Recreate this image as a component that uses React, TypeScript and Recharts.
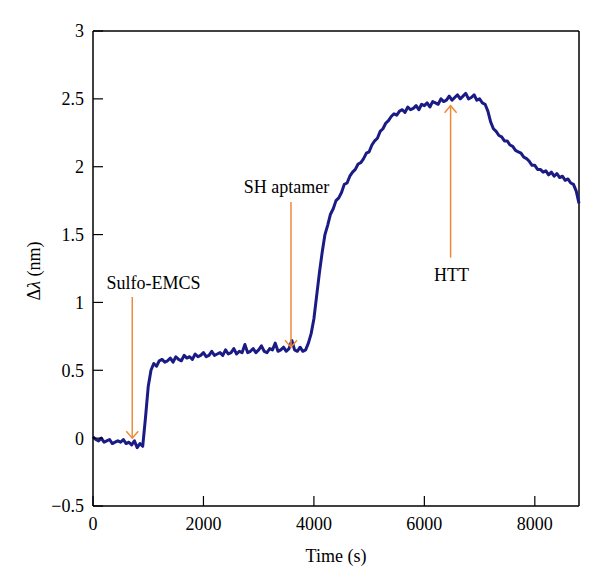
import { LineChart, Line, XAxis, YAxis, ReferenceLine, ReferenceDot } from 'recharts'

// sample times (s)
const timeS = [
  0, 50, 100, 150, 200, 250, 300, 350, 400, 450, 500, 550, 600, 650, 700, 750, 800, 850, 900,
  950, 1000, 1050, 1100, 1150, 1200,
  1250, 1300, 1350, 1400, 1450, 1500, 1550, 1600, 1650, 1700, 1750, 1800, 1850, 1900, 1950,
  2000, 2050, 2100, 2150, 2200, 2250, 2300, 2350, 2400, 2450, 2500, 2550, 2600, 2650, 2700,
  2750, 2800, 2850, 2900, 2950, 3000, 3050, 3100, 3150, 3200, 3250, 3300, 3350, 3400, 3450,
  3500, 3550, 3600, 3650, 3700, 3750, 3800, 3850,
  3900, 3950, 4000, 4050, 4100, 4150, 4200, 4250, 4300, 4350, 4400, 4450, 4500, 4550, 4600,
  4650, 4700, 4750, 4800, 4850, 4900, 4950, 5000, 5050, 5100, 5150, 5200, 5250, 5300, 5350,
  5400, 5450,
  5500, 5550, 5600, 5650, 5700, 5750, 5800, 5850, 5900, 5950, 6000, 6050, 6100, 6150, 6200,
  6250, 6300, 6350, 6400, 6450, 6500, 6550, 6600, 6650, 6700, 6750, 6800, 6850, 6900, 6950,
  7000, 7050,
  7100, 7150, 7200, 7250, 7300, 7350, 7400, 7450, 7500, 7550, 7600, 7650, 7700, 7750, 7800,
  7850, 7900, 7950, 8000, 8050, 8100, 8150, 8200, 8250, 8300, 8350, 8400, 8450, 8500, 8550,
  8600, 8650, 8700, 8750, 8800,
]

// wavelength shift (nm)
const shiftNm = [
  0.01, -0.01, -0.02, 0.0, -0.03, -0.02, -0.01, -0.04, -0.03, -0.02, -0.03, -0.01, -0.04, -0.03, -0.05, -0.02, -0.07, -0.04, -0.06,
  0.15, 0.38, 0.5, 0.55, 0.53, 0.57,
  0.58, 0.56, 0.57, 0.59, 0.56, 0.6, 0.58, 0.57, 0.61, 0.59,
  0.6, 0.58, 0.62, 0.6, 0.61, 0.63, 0.6, 0.61, 0.64, 0.61,
  0.62, 0.63, 0.61, 0.65, 0.62, 0.63, 0.66, 0.62, 0.64, 0.63,
  0.69, 0.63, 0.64, 0.66, 0.63, 0.65, 0.68, 0.64, 0.63, 0.66,
  0.65, 0.7, 0.64, 0.65, 0.67, 0.64, 0.66, 0.72, 0.65, 0.64,
  0.67, 0.64, 0.65,
  0.7, 0.77, 0.88, 1.05, 1.22, 1.37, 1.5, 1.57, 1.65, 1.69, 1.75, 1.77, 1.81, 1.87, 1.88,
  1.93, 1.96, 1.98, 2.02, 2.03, 2.06, 2.1, 2.11, 2.16, 2.19, 2.21, 2.26, 2.28, 2.32, 2.34,
  2.37, 2.39,
  2.38, 2.41, 2.42, 2.4, 2.44, 2.42, 2.43, 2.45, 2.42, 2.46,
  2.45, 2.47, 2.44, 2.48, 2.47, 2.46, 2.5, 2.48, 2.49, 2.52,
  2.49, 2.51, 2.53, 2.5, 2.52, 2.54, 2.5, 2.51, 2.53, 2.49,
  2.5, 2.47,
  2.46, 2.41, 2.33, 2.28, 2.26, 2.23, 2.22, 2.19, 2.19, 2.16,
  2.15, 2.12, 2.11, 2.1, 2.07, 2.06, 2.04, 2.01, 2.01, 1.98,
  1.98, 1.96, 1.97, 1.94, 1.96, 1.93, 1.95, 1.92, 1.93, 1.9,
  1.91, 1.88, 1.87, 1.82, 1.73,
]

const xTicks = [0, 2000, 4000, 6000, 8000]
const yTicks = [-0.5, 0, 0.5, 1, 1.5, 2, 2.5, 3]

// injection markers
const markerNames = ['Sulfo-EMCS', 'SH aptamer', 'HTT']
const markerTime = [711, 3585, 6475]
const markerTail = [1.04, 1.74, 1.33]
const markerTip = [0, 0.67, 2.45]
const labelTime = [1095, 3504, 6493]
const labelShift = [1.14, 1.85, 1.2]

const data = timeS.map((t, i) => ({ t, shift: shiftNm[i] }))

const FONT = '"Liberation Serif", "DejaVu Serif", serif'
const NAVY = '#1b1b86'
const ORANGE = '#ef8a3a'

function Arrow(props: any) {
  const { x1, y1, x2, y2 } = props
  const back = y2 > y1 ? -7 : 7
  return (
    <g>
      <line x1={x1} y1={y1} x2={x2} y2={y2} stroke={ORANGE} strokeWidth={1.5} />
      <polyline
        points={`${x2 - 6},${y2 + back} ${x2},${y2} ${x2 + 6},${y2 + back}`}
        fill="none"
        stroke={ORANGE}
        strokeWidth={1.5}
      />
    </g>
  )
}

function YTitle() {
  return (
    <text
      transform="translate(32, 263) rotate(-90)"
      textAnchor="middle"
      fontSize={18}
      fontFamily={FONT}
      fill="#000"
    >
      Δ<tspan fontStyle="italic">λ</tspan> (nm)
    </text>
  )
}

function XTitle() {
  return (
    <text x={328} y={554} textAnchor="middle" fontSize={18} fontFamily={FONT} fill="#000">
      Time (s)
    </text>
  )
}

const fmtY = (v: number) => (v < 0 ? '\u2212' + String(-v) : String(v))

export default function App() {
  return (
    <LineChart
      width={592}
      height={577}
      data={data}
      margin={{ top: 23, right: 21, bottom: 0, left: 0 }}
      style={{ fontFamily: FONT }}
    >
      <XAxis
        dataKey="t"
        type="number"
        domain={[0, 8800]}
        ticks={xTicks}
        height={79}
        tickSize={-10}
        tickMargin={21}
        axisLine={{ stroke: '#000', strokeWidth: 1.5 }}
        tickLine={{ stroke: '#000', strokeWidth: 1.2 }}
        tick={{ fill: '#000', fontSize: 18, fontFamily: FONT }}
        label={XTitle}
      />
      <YAxis
        type="number"
        domain={[-0.5, 3]}
        ticks={yTicks}
        width={85}
        tickSize={-10}
        tickMargin={19}
        tickFormatter={fmtY}
        axisLine={{ stroke: '#000', strokeWidth: 1.5 }}
        tickLine={{ stroke: '#000', strokeWidth: 1.2 }}
        tick={{ fill: '#000', fontSize: 18, fontFamily: FONT }}
        label={YTitle}
      />
      <ReferenceLine y={3} stroke="#000" strokeWidth={1.5} />
      <ReferenceLine x={8800} stroke="#000" strokeWidth={1.5} />
      <Line
        type="linear"
        dataKey="shift"
        stroke={NAVY}
        strokeWidth={3}
        strokeLinejoin="round"
        dot={false}
        isAnimationActive={false}
      />
      {markerNames.map((name, i) => (
        <ReferenceLine
          key={'a' + name}
          segment={[
            { x: markerTime[i], y: markerTail[i] },
            { x: markerTime[i], y: markerTip[i] },
          ]}
          shape={Arrow}
        />
      ))}
      {markerNames.map((name, i) => (
        <ReferenceDot
          key={'t' + name}
          x={labelTime[i]}
          y={labelShift[i]}
          r={0}
          shape={(p: any) => (
            <text
              x={p.cx}
              y={p.cy}
              textAnchor="middle"
              dominantBaseline="central"
              fontSize={18}
              fontFamily={FONT}
              fill="#000"
            >
              {name}
            </text>
          )}
        />
      ))}
    </LineChart>
  )
}
